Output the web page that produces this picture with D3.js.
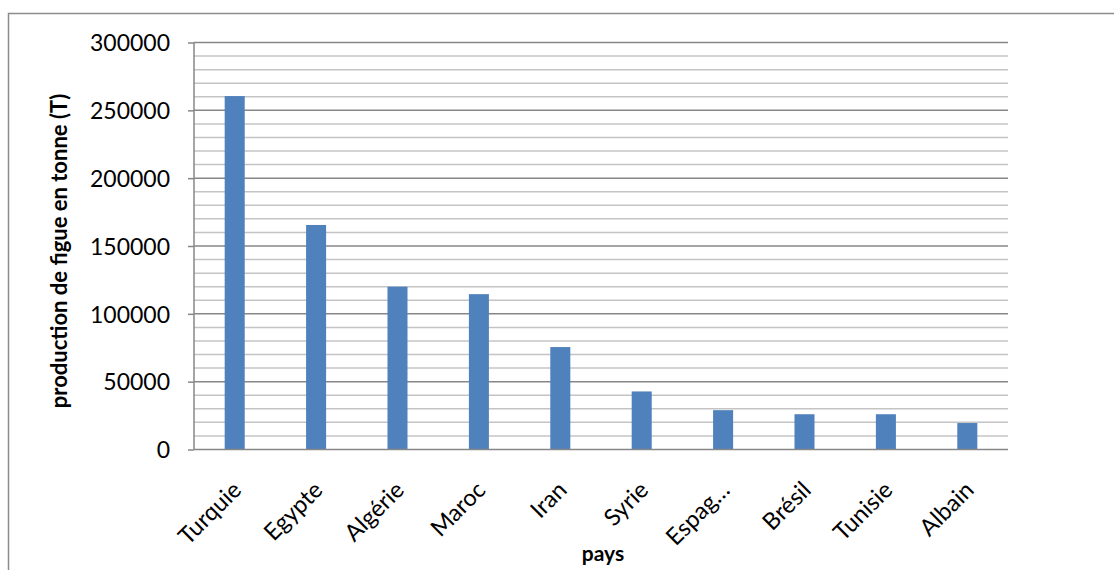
<!DOCTYPE html>
<html>
<head>
<meta charset="utf-8">
<script src="https://cdn.jsdelivr.net/npm/d3@7"></script>
<style>
  html, body { margin: 0; padding: 0; background: #fff; }
  svg { display: block; }
  text { font-family: Lato, "Open Sans", sans-serif; fill: #000; }
</style>
</head>
<body>
<svg id="chart" width="1114" height="570"></svg>
<script>
// Production de figues par pays (tonnes)
const categories = ["Turquie", "Egypte", "Algérie", "Maroc", "Iran", "Syrie", "Espag…", "Brésil", "Tunisie", "Albain"];
const production = [260500, 165500, 120000, 114500, 75500, 42800, 29000, 26000, 26000, 19500];
const yTicks = [0, 50000, 100000, 150000, 200000, 250000, 300000];
const yMinorTicks = d3.range(0, 300001, 10000);
const yTitle = "production de figue en tonne (T)";
const xTitle = "pays";

const svg = d3.select("#chart");
const plot = { left: 194, right: 1008, top: 42.5, bottom: 449.5 };

// chart frame
svg.append("rect")
  .attr("x", 8.5).attr("y", 13.5)
  .attr("width", 1200).attr("height", 700)
  .attr("fill", "none").attr("stroke", "#8c8c8c").attr("stroke-width", 1.5);

const x = d3.scaleBand()
  .domain(categories)
  .range([plot.left, plot.right])
  .paddingInner(0.754).paddingOuter(0.377);

const y = d3.scaleLinear()
  .domain([0, 300000])
  .range([plot.bottom, plot.top]);

// minor gridlines
svg.append("g")
  .selectAll("line")
  .data(yMinorTicks.filter(v => v % 50000 !== 0))
  .join("line")
  .attr("x1", plot.left).attr("x2", plot.right)
  .attr("y1", d => y(d)).attr("y2", d => y(d))
  .attr("stroke", "#c4c4c4").attr("stroke-width", 1.5);

// major gridlines
svg.append("g")
  .selectAll("line")
  .data(yTicks.filter(v => v > 0))
  .join("line")
  .attr("x1", plot.left).attr("x2", plot.right)
  .attr("y1", d => y(d)).attr("y2", d => y(d))
  .attr("stroke", "#878787").attr("stroke-width", 1.5);

// bars
svg.append("g")
  .selectAll("rect")
  .data(categories.map((c, i) => ({ c, v: production[i] })))
  .join("rect")
  .attr("x", d => x(d.c))
  .attr("width", x.bandwidth())
  .attr("y", d => y(d.v))
  .attr("height", d => y(0) - y(d.v))
  .attr("fill", "#4f81bd");

// y axis
const yAxis = svg.append("g")
  .attr("transform", `translate(${plot.left},0)`)
  .call(d3.axisLeft(y).tickValues(yTicks).tickSize(6).tickPadding(18).tickFormat(d3.format("d")));
yAxis.select(".domain").attr("stroke", "#878787").attr("stroke-width", 1.5).attr("d", `M0,${plot.top}V${plot.bottom}`);
yAxis.selectAll(".tick line").attr("stroke", "#878787").attr("stroke-width", 1.5);
yAxis.selectAll(".tick text").style("font-size", "23px").attr("dy", "0.36em");

// x axis baseline
svg.append("line")
  .attr("x1", plot.left).attr("x2", plot.right)
  .attr("y1", y(0)).attr("y2", y(0))
  .attr("stroke", "#878787").attr("stroke-width", 1.5);

// category labels, rotated
svg.append("g")
  .selectAll("text")
  .data(categories)
  .join("text")
  .attr("transform", d => `translate(${x(d) + x.bandwidth() / 2 + 8},${plot.bottom + 42}) rotate(-45)`)
  .attr("text-anchor", "end")
  .style("font-size", "23.5px")
  .text(d => d);

// axis titles
svg.append("text")
  .attr("transform", `translate(67,${(plot.top + plot.bottom) / 2 + 5}) rotate(-90)`)
  .attr("text-anchor", "middle")
  .style("font-size", "22px").style("font-weight", "bold")
  .text(yTitle);

svg.append("text")
  .attr("x", 603).attr("y", 561)
  .attr("text-anchor", "middle")
  .style("font-size", "21px").style("font-weight", "bold")
  .text(xTitle);
</script>
</body>
</html>
